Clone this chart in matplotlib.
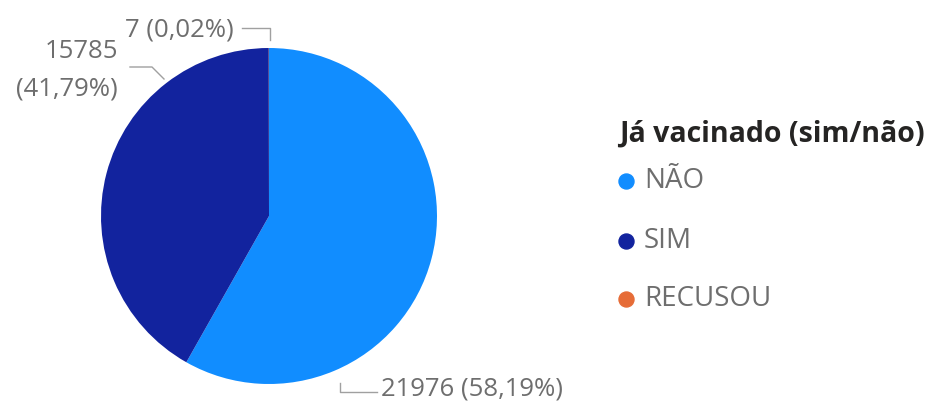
import numpy as np
import matplotlib
matplotlib.use("Agg")
from matplotlib import pyplot as plt

# dados do gráfico
categorias = ["NÃO", "SIM", "RECUSOU"]
valores = [21976, 15785, 7]
percentuais = ["58,19%", "41,79%", "0,02%"]
cores = ["#118DFF", "#12239E", "#E66C37"]
titulo_legenda = "Já vacinado (sim/não)"

plt.rcParams['font.family'] = ['Open Sans', 'DejaVu Sans']

W, H = 933, 404
fig = plt.figure(figsize=(W / 100, H / 100), dpi=100)
fig.patch.set_facecolor("white")

# eixo do pizza posicionado em pixels (centro 269,216 raio 168)
cx, cy, r = 269, 216, 168
ax = fig.add_axes([(cx - r) / W, (H - cy - r) / H, 2 * r / W, 2 * r / H])
ax.pie(valores, colors=cores, startangle=90, counterclock=False, radius=1,
       wedgeprops=dict(linewidth=0))
ax.set_xlim(-1, 1)
ax.set_ylim(-1, 1)
ax.axis("off")

cinza = "#6e6e6e"
cor_linha = "#a0a0a0"
fs = 18.5

# converte pixels da imagem para coordenadas do eixo da pizza
def px(x, y):
    return ((x - cx) / r, (cy - y) / r)

# rótulos com linhas de chamada
# RECUSOU
ax.plot(*zip(px(242, 28), px(270, 28), px(270, 40)), color=cor_linha, lw=1, clip_on=False)
ax.text(*px(234, 30), f"{valores[2]} ({percentuais[2]})", ha="right", va="center",
        color=cinza, fontsize=fs)
# SIM
ax.plot(*zip(px(130, 67), px(152, 67), px(164, 79)), color=cor_linha, lw=1, clip_on=False)
ax.text(*px(118, 51), f"{valores[1]}", ha="right", va="center", color=cinza, fontsize=fs)
ax.text(*px(118, 89), f"({percentuais[1]})", ha="right", va="center", color=cinza, fontsize=fs)
# NÃO
ax.plot(*zip(px(340, 383), px(340, 392), px(377, 392)), color=cor_linha, lw=1, clip_on=False)
ax.text(*px(381, 389), f"{valores[0]} ({percentuais[0]})", ha="left", va="center",
        color=cinza, fontsize=fs)

# legenda desenhada num eixo de sobreposição em pixels
lg = fig.add_axes([0, 0, 1, 1])
lg.set_xlim(0, W)
lg.set_ylim(H, 0)
lg.axis("off")
lg.text(619, 134, titulo_legenda, ha="left", va="center", fontsize=20.5,
        fontweight="bold", color="#252423")
linhas_y = [181, 241, 299]
for cat, cor, y in zip(categorias, cores, linhas_y):
    lg.plot([625.5], [y], marker="o", markersize=10.8, color=cor, linestyle="")
    lg.text(644, y, cat, ha="left", va="center", fontsize=20, color=cinza)

fig.savefig("out.png", dpi=100)
